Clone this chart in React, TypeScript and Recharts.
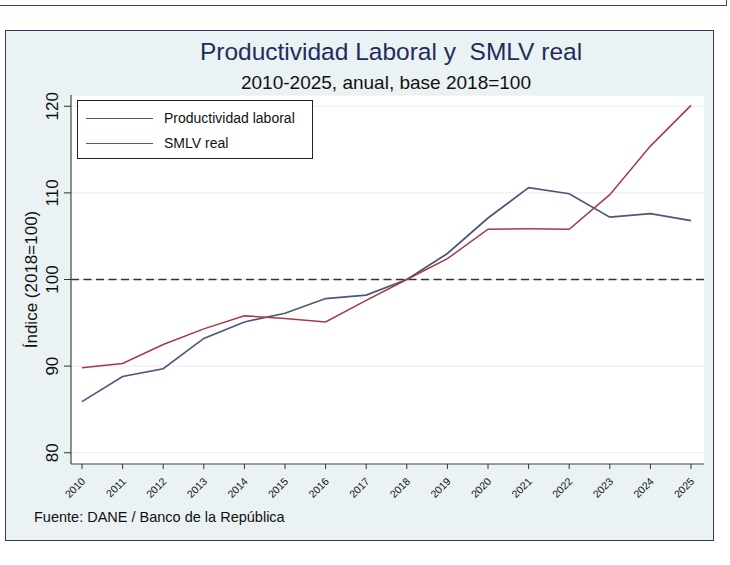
import React from "react";
import { LineChart, Line, XAxis, YAxis, CartesianGrid, ReferenceLine } from "recharts";

const years = ["2010","2011","2012","2013","2014","2015","2016","2017","2018","2019","2020","2021","2022","2023","2024","2025"];
const productividad = [85.9, 88.8, 89.7, 93.2, 95.1, 96.1, 97.8, 98.2, 100, 103.0, 107.1, 110.6, 109.9, 107.2, 107.6, 106.8];
const smlv = [89.8, 90.3, 92.5, 94.3, 95.8, 95.5, 95.1, 97.6, 100, 102.4, 105.8, 105.85, 105.8, 109.8, 115.4, 120.1];
const yTicks = [80, 90, 100, 110, 120];
const seriesNames = ["Productividad laboral", "SMLV real"];

const data = years.map((y, i) => ({ year: y, prod: productividad[i], smlv: smlv[i] }));

const BLUE = "#4b5875";
const RED = "#a23a48";
const FONT = "'Liberation Sans', Arial, Helvetica, sans-serif";

const YTick = (props: any) => {
  const { x, y, payload } = props;
  const lx = x - 11;
  return (
    <g>
      <line x1={x + 1} x2={x + 8} y1={y} y2={y} stroke="#333" strokeWidth={1} />
      <text x={lx} y={y} dy={6} transform={`rotate(-90, ${lx}, ${y})`} textAnchor="middle" fontSize={17} fill="#111" fontFamily={FONT}>
        {payload.value}
      </text>
    </g>
  );
};

const XTick = (props: any) => {
  const { x, y, payload } = props;
  const tx = x + 4;
  const ty = y + 11;
  return (
    <g>
      <text x={tx} y={ty} transform={`rotate(-45, ${tx}, ${ty})`} textAnchor="end" fontSize={10.5} fill="#111" fontFamily={FONT}>
        {payload.value}
      </text>
    </g>
  );
};

export default function App() {
  const legendItems = [
    { c: BLUE, t: seriesNames[0], y: 17 },
    { c: RED, t: seriesNames[1], y: 42 },
  ];
  return (
    <div style={{ position: "absolute", left: 0, top: 0, width: 730, height: 565, background: "#fff", overflow: "hidden", fontFamily: FONT }}>
      <div style={{ position: "absolute", left: -4, top: -10, width: 729, height: 14, border: "1.5px solid #3a4463", background: "#fff" }} />
      <div style={{ position: "absolute", left: 5, top: 30, width: 707, height: 509, border: "1.5px solid #2d3a66", background: "#eaf2f3" }} />
      <div style={{ position: "absolute", left: 0, width: 730, top: 38, textAlign: "center", paddingLeft: 52, boxSizing: "border-box", fontSize: 24.5, lineHeight: "28px", color: "#1f2d5c" }}>
        Productividad Laboral y&nbsp; SMLV real
      </div>
      <div style={{ position: "absolute", left: 0, width: 730, top: 72, textAlign: "center", paddingLeft: 42, boxSizing: "border-box", fontSize: 19, lineHeight: "22px", color: "#111" }}>
        2010-2025, anual, base 2018=100
      </div>
      <div style={{ position: "absolute", left: 34, top: 508, fontSize: 14.5, lineHeight: "18px", color: "#111" }}>
        Fuente: DANE / Banco de la República
      </div>
      <div style={{ position: "absolute", left: 0, top: 0 }}>
        <LineChart width={730} height={565} data={data} margin={{ top: 95, right: 26, bottom: 71, left: 41 }}>
          <CartesianGrid vertical={false} fill="#fff" stroke="#ececec" strokeWidth={1} />
          <XAxis dataKey="year" height={30} padding={{ left: 11, right: 13 }} tick={<XTick />} tickLine={{ stroke: "#333" }} tickSize={5} axisLine={{ stroke: "#444", strokeWidth: 1.2 }} interval={0} />
          <YAxis width={30} domain={[78.7, 121.3]} ticks={yTicks} tick={<YTick />} tickLine={false} axisLine={{ stroke: "#444", strokeWidth: 1.2 }} type="number" allowDataOverflow
            label={{ value: "Índice (2018=100)", angle: -90, position: "insideLeft", offset: 0, dx: -10, dy: 0, style: { fontSize: 17, fill: "#111", fontFamily: FONT, textAnchor: "middle" } }} />
          <ReferenceLine y={100} stroke="#333" strokeWidth={1.3} strokeDasharray="8 4.5" />
          <Line type="linear" dataKey="prod" name={seriesNames[0]} stroke={BLUE} strokeWidth={1.7} dot={false} isAnimationActive={false} />
          <Line type="linear" dataKey="smlv" name={seriesNames[1]} stroke={RED} strokeWidth={1.5} dot={false} isAnimationActive={false} />
        </LineChart>
      </div>
      <div style={{ position: "absolute", left: 77, top: 100, width: 236, height: 59, background: "#fff", border: "1px solid #222", boxSizing: "border-box", fontSize: 14, color: "#111" }}>
        {legendItems.map((it) => (
          <React.Fragment key={it.t}>
            <div style={{ position: "absolute", left: 8, top: it.y, width: 67, height: 0, borderTop: `1.5px solid ${it.c}` }} />
            <div style={{ position: "absolute", left: 86, top: it.y - 9, lineHeight: "18px" }}>{it.t}</div>
          </React.Fragment>
        ))}
      </div>
    </div>
  );
}
